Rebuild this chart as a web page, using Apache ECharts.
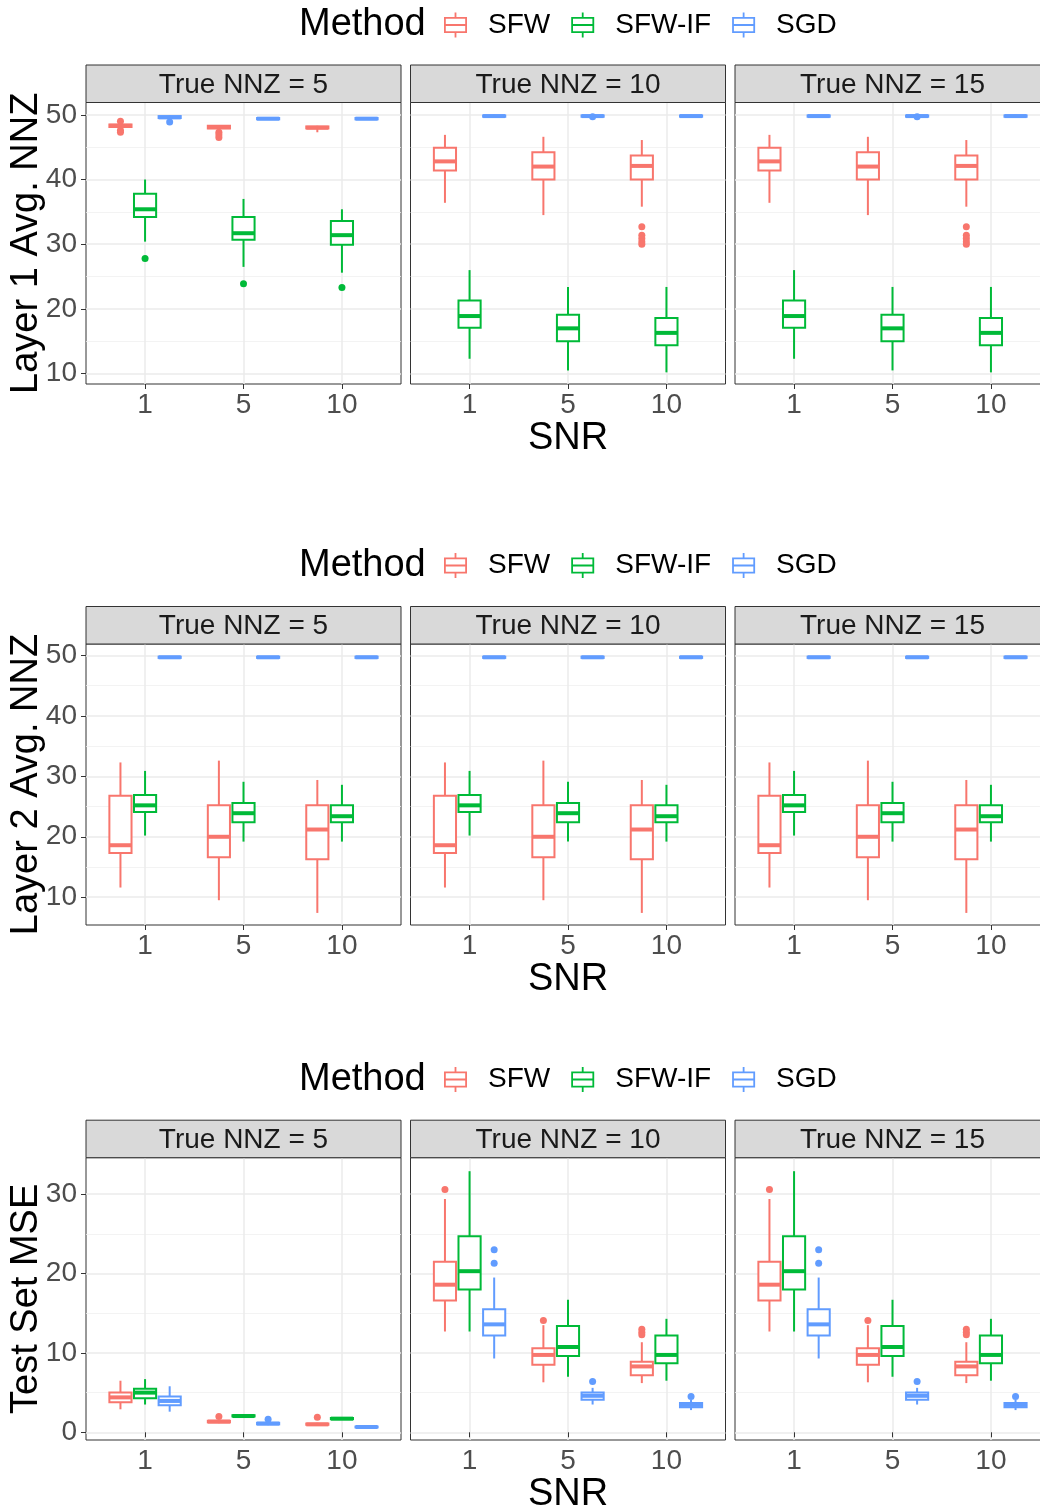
<!DOCTYPE html>
<html><head><meta charset="utf-8">
<script src="https://cdn.jsdelivr.net/npm/echarts@6/dist/echarts.min.js"></script>
<style>html,body{margin:0;padding:0;background:#fff}#c{width:1040px;height:1512px}</style>
</head><body><div id="c"></div>
<script>
// ---------- labels ----------
const snrLabels = ['1', '5', '10'];
const methods = ['SFW', 'SFW-IF', 'SGD'];
const methodColors = ['#F8766D', '#00BA38', '#619CFF'];
const facetLabels = ['True NNZ = 5', 'True NNZ = 10', 'True NNZ = 15'];
const rowTitles = ['Layer 1 Avg. NNZ', 'Layer 2 Avg. NNZ', 'Test Set MSE'];
const xTitle = 'SNR';
const legendTitle = 'Method';
const yTicks = [[10, 20, 30, 40, 50], [10, 20, 30, 40, 50], [0, 10, 20, 30]];
const yRanges = [[8.4, 51.9], [5.4, 51.9], [-0.97, 34.6]];

// ---------- box stats: [min, q1, median, q3, max] for SNR 1, 5, 10 ----------
// Layer 1 Avg. NNZ
const l1n5SFW = [[47.9, 48.1, 48.3, 48.5, 48.7], [47.8, 47.9, 48.1, 48.3, 48.4], [47.3, 47.9, 48.0, 48.2, 48.3]];
const l1n5IF = [[30.4, 34.2, 35.4, 37.8, 40.0], [26.5, 30.7, 31.7, 34.2, 37.0], [25.6, 29.9, 31.4, 33.6, 35.4]];
const l1n5SGD = [[49.4, 49.5, 49.6, 49.8, 49.9], [49.2, 49.3, 49.4, 49.5, 49.6], [49.2, 49.3, 49.4, 49.5, 49.6]];
const l1n5SFWout = [[0, 49.0], [0, 47.6], [0, 47.3], [1, 47.3], [1, 46.9], [1, 46.5]];
const l1n5IFout = [[0, 27.8], [1, 23.9], [2, 23.3]];
const l1n5SGDout = [[0, 48.9]];

const l1n10SFW = [[36.4, 41.4, 42.8, 44.9, 46.9], [34.5, 40.0, 42.0, 44.2, 46.6], [35.8, 40.0, 42.1, 43.7, 46.1]];
const l1n10IF = [[12.3, 17.1, 18.9, 21.3, 26.0], [10.5, 15.0, 17.0, 19.1, 23.4], [10.2, 14.4, 16.3, 18.6, 23.4]];
const l1n10SGD = [[49.6, 49.7, 49.8, 49.9, 50.0], [49.6, 49.7, 49.8, 49.9, 50.0], [49.6, 49.7, 49.8, 49.9, 50.0]];
const l1n10SFWout = [[2, 32.7], [2, 31.4], [2, 30.9], [2, 30.4], [2, 30.0]];
const l1n10IFout = [];
const l1n10SGDout = [[1, 49.7]];

const l1n15SFW = [[36.4, 41.4, 42.8, 44.9, 46.9], [34.5, 40.0, 42.0, 44.2, 46.6], [35.8, 40.0, 42.1, 43.7, 46.1]];
const l1n15IF = [[12.3, 17.1, 18.9, 21.3, 26.0], [10.5, 15.0, 17.0, 19.1, 23.4], [10.2, 14.4, 16.3, 18.6, 23.4]];
const l1n15SGD = [[49.6, 49.7, 49.8, 49.9, 50.0], [49.6, 49.7, 49.8, 49.9, 50.0], [49.6, 49.7, 49.8, 49.9, 50.0]];
const l1n15SFWout = [[2, 32.7], [2, 31.4], [2, 30.9], [2, 30.4], [2, 30.0]];
const l1n15IFout = [];
const l1n15SGDout = [[1, 49.7]];

// Layer 2 Avg. NNZ
const l2n5SFW = [[11.6, 17.3, 18.6, 26.8, 32.3], [9.5, 16.6, 20.0, 25.2, 32.6], [7.4, 16.3, 21.2, 25.2, 29.4]];
const l2n5IF = [[20.2, 24.1, 25.2, 26.9, 30.9], [19.2, 22.4, 23.9, 25.6, 29.1], [19.2, 22.4, 23.4, 25.2, 28.6]];
const l2n5SGD = [[49.5, 49.6, 49.7, 49.8, 49.9], [49.5, 49.6, 49.7, 49.8, 49.9], [49.5, 49.6, 49.7, 49.8, 49.9]];
const l2n10SFW = [[11.6, 17.3, 18.6, 26.8, 32.3], [9.5, 16.6, 20.0, 25.2, 32.6], [7.4, 16.3, 21.2, 25.2, 29.4]];
const l2n10IF = [[20.2, 24.1, 25.2, 26.9, 30.9], [19.2, 22.4, 23.9, 25.6, 29.1], [19.2, 22.4, 23.4, 25.2, 28.6]];
const l2n10SGD = [[49.5, 49.6, 49.7, 49.8, 49.9], [49.5, 49.6, 49.7, 49.8, 49.9], [49.5, 49.6, 49.7, 49.8, 49.9]];
const l2n15SFW = [[11.6, 17.3, 18.6, 26.8, 32.3], [9.5, 16.6, 20.0, 25.2, 32.6], [7.4, 16.3, 21.2, 25.2, 29.4]];
const l2n15IF = [[20.2, 24.1, 25.2, 26.9, 30.9], [19.2, 22.4, 23.9, 25.6, 29.1], [19.2, 22.4, 23.4, 25.2, 28.6]];
const l2n15SGD = [[49.5, 49.6, 49.7, 49.8, 49.9], [49.5, 49.6, 49.7, 49.8, 49.9], [49.5, 49.6, 49.7, 49.8, 49.9]];

// Test Set MSE
const m5SFW = [[2.9, 3.8, 4.4, 5.0, 6.5], [1.15, 1.25, 1.35, 1.45, 1.55], [0.85, 0.95, 1.0, 1.1, 1.2]];
const m5IF = [[3.5, 4.3, 5.0, 5.5, 6.7], [1.9, 2.0, 2.05, 2.15, 2.3], [1.55, 1.65, 1.72, 1.8, 1.9]];
const m5SGD = [[2.6, 3.4, 3.95, 4.5, 5.8], [0.9, 1.0, 1.1, 1.2, 1.3], [0.55, 0.62, 0.67, 0.72, 0.78]];
const m5SFWout = [[1, 2.0], [2, 1.9]];
const m5IFout = [];
const m5SGDout = [[1, 1.64]];

const m10SFW = [[12.7, 16.6, 18.6, 21.5, 29.4], [6.3, 8.5, 9.75, 10.6, 13.5], [6.2, 7.2, 8.3, 8.9, 11.35]];
const m10IF = [[12.7, 18.0, 20.3, 24.7, 32.9], [7.0, 9.6, 10.75, 13.4, 16.7], [6.5, 8.7, 9.75, 12.2, 14.3]];
const m10SGD = [[9.3, 12.2, 13.6, 15.5, 19.5], [3.5, 4.1, 4.6, 5.0, 5.6], [2.8, 3.15, 3.45, 3.7, 4.1]];
const m10SFWout = [[0, 30.6], [1, 14.1], [2, 13.0], [2, 12.6], [2, 12.3]];
const m10IFout = [];
const m10SGDout = [[0, 23.0], [0, 21.3], [1, 6.4], [2, 4.5]];

const m15SFW = [[12.7, 16.6, 18.6, 21.5, 29.4], [6.3, 8.5, 9.75, 10.6, 13.5], [6.2, 7.2, 8.3, 8.9, 11.35]];
const m15IF = [[12.7, 18.0, 20.3, 24.7, 32.9], [7.0, 9.6, 10.75, 13.4, 16.7], [6.5, 8.7, 9.75, 12.2, 14.3]];
const m15SGD = [[9.3, 12.2, 13.6, 15.5, 19.5], [3.5, 4.1, 4.6, 5.0, 5.6], [2.8, 3.15, 3.45, 3.7, 4.1]];
const m15SFWout = [[0, 30.6], [1, 14.1], [2, 13.0], [2, 12.6], [2, 12.3]];
const m15IFout = [];
const m15SGDout = [[0, 23.0], [0, 21.3], [1, 6.4], [2, 4.5]];

// panel tables [row][facet][method]
const panelStats = [
  [[l1n5SFW, l1n5IF, l1n5SGD], [l1n10SFW, l1n10IF, l1n10SGD], [l1n15SFW, l1n15IF, l1n15SGD]],
  [[l2n5SFW, l2n5IF, l2n5SGD], [l2n10SFW, l2n10IF, l2n10SGD], [l2n15SFW, l2n15IF, l2n15SGD]],
  [[m5SFW, m5IF, m5SGD], [m10SFW, m10IF, m10SGD], [m15SFW, m15IF, m15SGD]]
];
const panelOutliers = [
  [[l1n5SFWout, l1n5IFout, l1n5SGDout], [l1n10SFWout, l1n10IFout, l1n10SGDout], [l1n15SFWout, l1n15IFout, l1n15SGDout]],
  [[[], [], []], [[], [], []], [[], [], []]],
  [[m5SFWout, m5IFout, m5SGDout], [m10SFWout, m10IFout, m10SGDout], [m15SFWout, m15IFout, m15SGDout]]
];

// ---------- layout ----------
const FONT = "'Liberation Sans', Arial, Helvetica, sans-serif";
const DODGE = 0.25, BOXW = 0.225;
const PANEL_LEFT = [86, 410.5, 735], PANEL_W = 315;
const ROW_TOP = [102.5, 644, 1157.7], ROW_BOT = [384, 925, 1440];
const STRIP_H = 37.5;
const LEGEND_Y = [23.5, 564, 1078];
const ICON = 'path://M10.6,0H12.4V4.5H23V20.5H12.4V25H10.6V20.5H0V4.5H10.6Z M1.8,6.3V11.6H21.2V6.3Z M1.8,13.4V18.7H21.2V13.4Z';

function makeRender(m, color) {
  return function (params, api) {
    const x = api.value(0) + (m - 1) * DODGE;
    const pMin = api.coord([x, api.value(1)]);
    const pQ1 = api.coord([x, api.value(2)]);
    const pMed = api.coord([x, api.value(3)]);
    const pQ3 = api.coord([x, api.value(4)]);
    const pMax = api.coord([x, api.value(5)]);
    const hw = api.size([BOXW, 0])[0] / 2;
    return {
      type: 'group',
      children: [
        { type: 'line', shape: { x1: pMax[0], y1: pMax[1], x2: pQ3[0], y2: pQ3[1] }, style: { stroke: color, lineWidth: 2 } },
        { type: 'line', shape: { x1: pQ1[0], y1: pQ1[1], x2: pMin[0], y2: pMin[1] }, style: { stroke: color, lineWidth: 2 } },
        { type: 'rect', shape: { x: pQ3[0] - hw, y: pQ3[1], width: 2 * hw, height: pQ1[1] - pQ3[1] }, style: { fill: '#fff', stroke: color, lineWidth: 2 } },
        { type: 'line', shape: { x1: pMed[0] - hw, y1: pMed[1], x2: pMed[0] + hw, y2: pMed[1] }, style: { stroke: color, lineWidth: 4 } }
      ]
    };
  };
}

const grids = [], xAxes = [], yAxes = [], series = [], graphics = [], legends = [];
for (let r = 0; r < 3; r++) {
  for (let c = 0; c < 3; c++) {
    const gi = r * 3 + c;
    grids.push({
      left: PANEL_LEFT[c], top: ROW_TOP[r], width: PANEL_W, height: ROW_BOT[r] - ROW_TOP[r],
      show: true, backgroundColor: '#fff', borderColor: '#333333', borderWidth: 1,
      containLabel: false, outerBoundsMode: 'none'
    });
    xAxes.push({
      type: 'value', gridIndex: gi, min: 0.4, max: 3.6, minInterval: 1, maxInterval: 1,
      axisLine: { show: false },
      axisTick: { show: true, length: 5, lineStyle: { color: '#333333', width: 1 }, customValues: [1, 2, 3] },
      axisLabel: {
        show: true, customValues: [1, 2, 3], color: '#4D4D4D', fontSize: 28, fontFamily: FONT, margin: 7,
        formatter: v => (snrLabels[Math.round(v) - 1] !== undefined && Math.abs(v - Math.round(v)) < 1e-6) ? snrLabels[Math.round(v) - 1] : ''
      },
      splitLine: { show: true, lineStyle: { color: '#EBEBEB', width: 1.5 } }
    });
    yAxes.push({
      type: 'value', gridIndex: gi, min: yRanges[r][0], max: yRanges[r][1], minInterval: 10, maxInterval: 10,
      axisLine: { show: false },
      axisTick: { show: c === 0, length: 5, lineStyle: { color: '#333333', width: 1 }, customValues: yTicks[r] },
      axisLabel: {
        show: c === 0, customValues: yTicks[r], color: '#4D4D4D', fontSize: 28, fontFamily: FONT, margin: 9,
        formatter: v => (Math.abs(v / 10 - Math.round(v / 10)) < 1e-6 ? String(Math.round(v)) : '')
      },
      splitLine: { show: true, lineStyle: { color: '#EBEBEB', width: 1.5 } },
      minorTick: { show: false, splitNumber: 2 },
      minorSplitLine: { show: true, lineStyle: { color: '#F0F0F0', width: 0.8 } }
    });
    for (let m = 0; m < 3; m++) {
      const stats = panelStats[r][c][m];
      series.push({
        type: 'custom', name: methods[m], xAxisIndex: gi, yAxisIndex: gi, silent: true, z: 3,
        itemStyle: { color: methodColors[m] },
        renderItem: makeRender(m, methodColors[m]),
        encode: { x: 0, y: [1, 2, 3, 4, 5] },
        data: stats.map((s, i) => [i + 1].concat(s))
      });
      const outs = panelOutliers[r][c][m];
      if (outs.length) {
        series.push({
          type: 'scatter', name: methods[m], xAxisIndex: gi, yAxisIndex: gi, silent: true, z: 4,
          symbol: 'circle', symbolSize: 7,
          itemStyle: { color: methodColors[m], opacity: 1 },
          data: outs.map(([i, v]) => [i + 1 + (m - 1) * DODGE, v])
        });
      }
    }
    // facet strip
    graphics.push({
      type: 'rect', z: 10,
      shape: { x: PANEL_LEFT[c], y: ROW_TOP[r] - STRIP_H, width: PANEL_W, height: STRIP_H },
      style: { fill: '#D9D9D9', stroke: '#333333', lineWidth: 1 }
    });
    graphics.push({
      type: 'text', z: 11, x: PANEL_LEFT[c] + PANEL_W / 2, y: ROW_TOP[r] - STRIP_H / 2 + 1.5,
      style: { text: facetLabels[c], fontSize: 28, fontFamily: FONT, fill: '#1A1A1A', align: 'center', verticalAlign: 'middle' }
    });
  }
  // row titles
  graphics.push({
    type: 'text', z: 11, x: 27, y: (ROW_TOP[r] + ROW_BOT[r]) / 2, rotation: Math.PI / 2,
    style: { text: rowTitles[r], fontSize: 38, fontFamily: FONT, fill: '#000', align: 'center', verticalAlign: 'middle' }
  });
  graphics.push({
    type: 'text', z: 11, x: 568, y: ROW_BOT[r] + 54.5,
    style: { text: xTitle, fontSize: 38, fontFamily: FONT, fill: '#000', align: 'center', verticalAlign: 'middle' }
  });
  graphics.push({
    type: 'text', z: 11, x: 299, y: LEGEND_Y[r] + 1.5,
    style: { text: legendTitle, fontSize: 38, fontFamily: FONT, fill: '#000', align: 'left', verticalAlign: 'middle' }
  });
  legends.push({
    show: true, left: 444, top: LEGEND_Y[r] - 12.5, orient: 'horizontal', padding: 0,
    itemWidth: 23, itemHeight: 25, itemGap: 21, icon: ICON, selectedMode: false,
    data: methods,
    itemStyle: { borderWidth: 0 },
    formatter: n => '{g| }' + n,
    textStyle: { fontSize: 28, color: '#000', fontFamily: FONT, rich: { g: { width: 16 } } }
  });
}

const chart = echarts.init(document.getElementById('c'), null, { renderer: 'canvas' });
chart.setOption({
  animation: false,
  backgroundColor: '#fff',
  textStyle: { fontFamily: FONT },
  grid: grids, xAxis: xAxes, yAxis: yAxes, series: series,
  legend: legends, graphic: graphics, tooltip: { show: false }
});
</script></body></html>
